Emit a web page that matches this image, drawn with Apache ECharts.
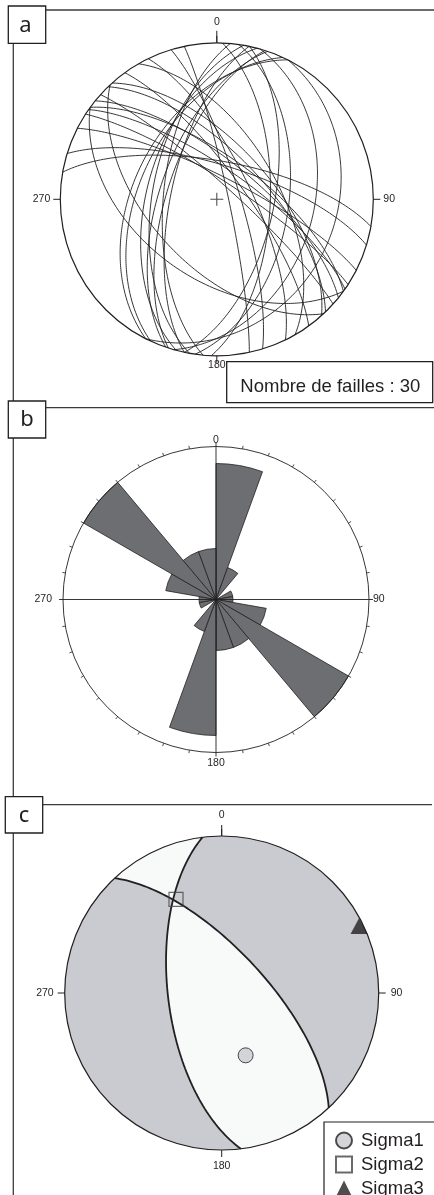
<!DOCTYPE html>
<html><head><meta charset="utf-8">
<script src="https://cdn.jsdelivr.net/npm/echarts@6.0.0/dist/echarts.min.js"></script>
<style>html,body{margin:0;padding:0;background:#fff}#c{width:434px;height:1195px}</style>
</head><body><div id="c"></div>
<script>
// ---------- DATA ----------
// Panel a: fault planes (strike, right-hand rule, and dip, degrees)
const faultStrikes = [343, 2, 12, 8, 16, 27, 207, 205, 195, 190, 199, 185, 198, 192, 348,
                      334, 324, 330, 303, 305, 309, 316, 137, 126, 312, 318, 306, 287, 297, 280];
const faultDips    = [78, 62, 60, 52, 38, 25, 46, 49, 53, 56, 60, 62, 64, 66, 84,
                      72, 76, 58, 80, 74, 70, 66, 55, 48, 82, 62, 68, 72, 78, 70];
// Panel b: rose diagram, 20-degree strike bins
const roseBins = ['0-20','20-40','40-60','60-80','80-100','100-120','120-140','140-160','160-180',
                  '180-200','200-220','220-240','240-260','260-280','280-300','300-320','320-340','340-360'];
const roseCounts = [8, 2, 0, 1, 1, 3, 9, 3, 3, 8, 2, 0, 1, 1, 3, 9, 3, 3];
const roseMax = 9;
// Panel c: nodal planes and principal stress axes
const planeStrikes = [173, 317];
const planeDips = [62, 68];
const sigmaNames = ['Sigma1', 'Sigma2', 'Sigma3'];
const sigmaTrends = [159, 334, 64];
const sigmaPlunges = [55, 34, 3];
// Compass tick labels
const compassLabels = ['0', '90', '180', '270'];

// ---------- GEOMETRY (Schmidt lower hemisphere) ----------
const D = Math.PI / 180;
function plane(s, d) { s *= D; d *= D;
  return { a: [Math.sin(s), Math.cos(s), 0],
           b: [Math.cos(d) * Math.cos(s), -Math.cos(d) * Math.sin(s), Math.sin(d)] }; }
function gcVec(p, t) { t *= D; const c = Math.cos(t), s = Math.sin(t);
  return [c * p.a[0] + s * p.b[0], c * p.a[1] + s * p.b[1], c * p.a[2] + s * p.b[2]]; }
function proj(v) { const k = 1 / Math.sqrt(1 + v[2]); return [v[0] * k, v[1] * k]; }
function gcPoints(p, t0, t1) { const n = Math.max(2, Math.round(Math.abs(t1 - t0))); const out = [];
  for (let i = 0; i <= n; i++) out.push(proj(gcVec(p, t0 + (t1 - t0) * i / n))); return out; }
function arcPoints(az0, az1) { const n = Math.max(2, Math.round(Math.abs(az1 - az0))); const out = [];
  for (let i = 0; i <= n; i++) { const az = (az0 + (az1 - az0) * i / n) * D; out.push([Math.sin(az), Math.cos(az)]); } return out; }
function lineVec(tr, pl) { tr *= D; pl *= D; return [Math.cos(pl) * Math.sin(tr), Math.cos(pl) * Math.cos(tr), Math.sin(pl)]; }
function cross(u, v) { return [u[1]*v[2]-u[2]*v[1], u[2]*v[0]-u[0]*v[2], u[0]*v[1]-u[1]*v[0]]; }
function dot(u, v) { return u[0]*v[0] + u[1]*v[1] + u[2]*v[2]; }

// panel c regions
const P1 = plane(planeStrikes[0], planeDips[0]);
const P2 = plane(planeStrikes[1], planeDips[1]);
let L = cross(cross(P1.a, P1.b), cross(P2.a, P2.b));
const Ln = Math.sqrt(dot(L, L)); L = L.map(x => x / Ln); if (L[2] < 0) L = L.map(x => -x);
const tI1 = Math.atan2(dot(L, P1.b), dot(L, P1.a)) / D;
const tI2 = Math.atan2(dot(L, P2.b), dot(L, P2.a)) / D;
const regions = [
  arcPoints(0, 360),
  [...gcPoints(P2, 0, tI2), ...gcPoints(P1, tI1, 180), ...arcPoints(planeStrikes[0] + 180, planeStrikes[1])],
  [...gcPoints(P1, 0, tI1), ...gcPoints(P2, tI2, 180), ...arcPoints(planeStrikes[1] - 180, planeStrikes[0])]
];

// ---------- LAYOUT ----------
const INK = '#231f20', FRAME = '#3b3b3b';
const A = { cx: 216.8, cy: 199.3, r: 156.5 };
const B = { cx: 216, cy: 599.5, r: 153 };
const C = { cx: 221.7, cy: 993, r: 157 };
const FONT = '"Liberation Sans", Arial, sans-serif';
const LFS = 10.5;

// pads: [top, right, bottom, left] extra label offsets
function compassLabel(pads) {
  const keys = ['t', 'r', 'b', 'l'];
  const base = { fontSize: LFS, color: INK, fontFamily: FONT };
  return { margin: 0, fontSize: LFS, color: INK, fontFamily: FONT,
    formatter: v => { const i = Math.round(v / 90) % 4; return '{' + keys[i] + '|' + compassLabels[i] + '}'; },
    rich: {
      t: Object.assign({ padding: [0, 0, pads[0], 0] }, base),
      r: Object.assign({ padding: [0, 0, 0, pads[1]] }, base),
      b: Object.assign({ padding: [pads[2], 0, 0, 0] }, base),
      l: Object.assign({ padding: [0, pads[3], 0, 0] }, base)
    } };
}
function primitiveAxis(pi, tickLen, pads) {
  return { polarIndex: pi, type: 'value', min: 0, max: 360, interval: 90, startAngle: 90, clockwise: true, z: 10,
    axisLine: { lineStyle: { color: INK, width: 1.2 } },
    axisTick: { length: tickLen, lineStyle: { color: INK, width: 1 } },
    axisLabel: compassLabel(pads),
    splitLine: { show: false } };
}
function northTickAxis(pi, tickLen) {
  return { polarIndex: pi, type: 'value', min: 0, max: 360, interval: 360, startAngle: 90, clockwise: true, z: 10,
    axisLine: { show: false }, axisLabel: { show: false }, splitLine: { show: false },
    axisTick: { length: tickLen, lineStyle: { color: INK, width: 1 } } };
}

const faultSeries = faultStrikes.map((s, i) => ({
  type: 'line', xAxisIndex: 0, yAxisIndex: 0, showSymbol: false, silent: true, clip: false,
  data: gcPoints(plane(s, faultDips[i]), 0, 180),
  lineStyle: { color: INK, width: 0.9 }, z: 3
}));

const sigmaStyles = [
  { symbol: 'circle', symbolSize: 15, itemStyle: { color: '#c8cad0', borderColor: INK, borderWidth: 1 } },
  { symbol: 'rect', symbolSize: 14, itemStyle: { color: 'rgba(255,255,255,0)', borderColor: '#444', borderWidth: 1.2 } },
  { symbol: 'triangle', symbolSize: [17, 16], itemStyle: { color: INK } }
];
const sigmaSeries = sigmaNames.map((n, i) => Object.assign({
  name: n, type: 'scatter', xAxisIndex: 1, yAxisIndex: 1, z: 6, clip: false,
  data: [proj(lineVec(sigmaTrends[i], sigmaPlunges[i]))]
}, sigmaStyles[i]));

const option = {
  animation: false,
  backgroundColor: '#fff',
  grid: [
    { left: A.cx - A.r, top: A.cy - A.r, width: 2 * A.r, height: 2 * A.r },
    { left: C.cx - C.r, top: C.cy - C.r, width: 2 * C.r, height: 2 * C.r }
  ],
  xAxis: [0, 1].map(g => ({ gridIndex: g, type: 'value', min: -1, max: 1, show: false })),
  yAxis: [0, 1].map(g => ({ gridIndex: g, type: 'value', min: -1, max: 1, show: false })),
  polar: [
    { center: [A.cx, A.cy], radius: A.r },
    { center: [B.cx, B.cy], radius: B.r },
    { center: [B.cx, B.cy], radius: B.r },
    { center: [C.cx, C.cy], radius: C.r },
    { center: [A.cx, A.cy], radius: A.r },
    { center: [C.cx, C.cy], radius: C.r }
  ],
  angleAxis: [
    primitiveAxis(0, 7, [15, 10, 4, 10]),
    { polarIndex: 1, type: 'value', min: 0, max: 360, interval: 90, startAngle: 90, clockwise: true, z: 5,
      axisLine: { lineStyle: { color: INK, width: 0.9 } },
      axisTick: { length: 4, lineStyle: { color: INK, width: 0.9 } },
      minorTick: { show: true, splitNumber: 9, length: 3, lineStyle: { color: INK, width: 0.8 } },
      axisLabel: compassLabel([1, 4, 5, 11]),
      splitLine: { show: true, lineStyle: { color: INK, width: 0.9 } } },
    { polarIndex: 2, type: 'category', data: roseBins, startAngle: 90, clockwise: true, show: false,
      axisLine: { show: false }, axisTick: { show: false }, axisLabel: { show: false }, splitLine: { show: false } },
    primitiveAxis(3, 7, [15, 12, 11, 11]),
    northTickAxis(4, 12),
    northTickAxis(5, 11)
  ],
  radiusAxis: [
    { polarIndex: 0, show: false, min: 0, max: 1 },
    { polarIndex: 1, show: false, min: 0, max: 1 },
    { polarIndex: 2, show: false, min: 0, max: roseMax, axisLine: { show: false }, splitLine: { show: false } },
    { polarIndex: 3, show: false, min: 0, max: 1 },
    { polarIndex: 4, show: false, min: 0, max: 1 },
    { polarIndex: 5, show: false, min: 0, max: 1 }
  ],
  legend: {
    data: sigmaNames, orient: 'vertical', left: 324, top: 1122, height: 120, selectedMode: false,
    padding: [9, 80, 9, 11], itemWidth: 16, itemHeight: 16, itemGap: 5,
    borderColor: INK, borderWidth: 1.2, backgroundColor: '#fff',
    textStyle: { fontSize: 18.5, color: INK, fontFamily: FONT, padding: [0, 0, 0, 4] }
  },
  series: [
    ...faultSeries,
    { type: 'scatter', xAxisIndex: 0, yAxisIndex: 0, silent: true, z: 4,
      symbol: 'path://M0,5.5h12v1h-12zM5.5,0h1v12h-1z', symbolSize: 13,
      itemStyle: { color: INK }, data: [[0, 0]] },
    { type: 'bar', coordinateSystem: 'polar', polarIndex: 2, data: roseCounts, barCategoryGap: '0%',
      silent: true, z: 2, itemStyle: { color: '#6d6e71', borderColor: INK, borderWidth: 0.8 } },
    { type: 'custom', xAxisIndex: 1, yAxisIndex: 1, silent: true, z: 1,
      data: regions.map((r, i) => [i, 0]),
      renderItem: (params, api) => ({ type: 'polygon',
        shape: { points: regions[params.dataIndex].map(p => api.coord(p)) },
        style: { fill: params.dataIndex === 0 ? '#c9cbd1' : '#f8f9f9', stroke: null } }) },
    ...[P1, P2].map(p => ({ type: 'line', xAxisIndex: 1, yAxisIndex: 1, showSymbol: false, silent: true, clip: false,
      data: gcPoints(p, 0, 180), lineStyle: { color: INK, width: 1.8 }, z: 4 })),
    ...sigmaSeries
  ],
  graphic: [
    // panel a frame
    { type: 'line', shape: { x1: 45.7, y1: 10, x2: 434, y2: 10 }, style: { stroke: FRAME, lineWidth: 1.3 } },
    { type: 'line', shape: { x1: 13.3, y1: 43, x2: 13.3, y2: 401 }, style: { stroke: FRAME, lineWidth: 1.3 } },
    { type: 'rect', shape: { x: 8.3, y: 6, width: 37.4, height: 37.3 }, style: { fill: '#fff', stroke: INK, lineWidth: 1.3 } },
    { type: 'text', style: { text: 'a', x: 25.5, y: 25.5, fontSize: 22, fontFamily: '"Noto Sans", sans-serif', fill: INK,
      textAlign: 'center', align: 'center', textVerticalAlign: 'middle', verticalAlign: 'middle' } },
    // nombre de failles
    { type: 'rect', shape: { x: 226.7, y: 361.7, width: 206, height: 41 }, style: { fill: '#fff', stroke: INK, lineWidth: 1.3 }, z: 20 },
    { type: 'text', z: 21, style: { text: 'Nombre de failles : ' + faultStrikes.length, x: 330.3, y: 386.5, fontSize: 18.5, fontFamily: FONT, fill: INK,
      textAlign: 'center', align: 'center', textVerticalAlign: 'middle', verticalAlign: 'middle' } },
    // panel b frame
    { type: 'line', shape: { x1: 45.7, y1: 407.7, x2: 434, y2: 407.7 }, style: { stroke: FRAME, lineWidth: 1.3 } },
    { type: 'line', shape: { x1: 13.3, y1: 438, x2: 13.3, y2: 797 }, style: { stroke: FRAME, lineWidth: 1.3 } },
    { type: 'rect', shape: { x: 8.3, y: 401, width: 37.4, height: 37 }, style: { fill: '#fff', stroke: INK, lineWidth: 1.3 } },
    { type: 'text', style: { text: 'b', x: 27, y: 419.5, fontSize: 22, fontFamily: '"Noto Sans", sans-serif', fill: INK,
      textAlign: 'center', align: 'center', textVerticalAlign: 'middle', verticalAlign: 'middle' } },
    // panel c frame
    { type: 'line', shape: { x1: 42.7, y1: 804.7, x2: 432, y2: 804.7 }, style: { stroke: FRAME, lineWidth: 1.3 } },
    { type: 'line', shape: { x1: 13.3, y1: 833, x2: 13.3, y2: 1195 }, style: { stroke: FRAME, lineWidth: 1.3 } },
    { type: 'rect', shape: { x: 5.3, y: 796.7, width: 37.4, height: 36.3 }, style: { fill: '#fff', stroke: INK, lineWidth: 1.3 } },
    { type: 'text', style: { text: 'c', x: 24, y: 816, fontSize: 22, fontFamily: '"Noto Sans", sans-serif', fill: INK,
      textAlign: 'center', align: 'center', textVerticalAlign: 'middle', verticalAlign: 'middle' } }
  ]
};
const chart = echarts.init(document.getElementById('c'));
chart.setOption(option);
</script></body></html>
